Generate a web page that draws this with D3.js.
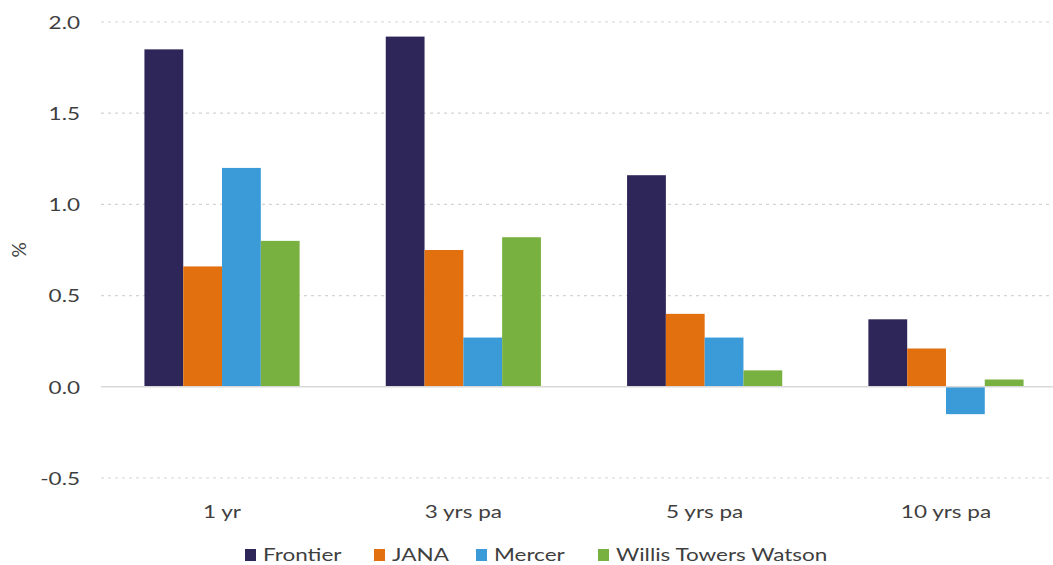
<!DOCTYPE html>
<html>
<head>
<meta charset="utf-8">
<script src="https://cdn.jsdelivr.net/npm/d3@7"></script>
<style>
  body { margin: 0; background: #fff; }
  svg text { font-family: Lato, "Open Sans", sans-serif; fill: #3f3f3f; }
</style>
</head>
<body>
<svg id="svg"></svg>
<script>
var categories = ['1 yr', '3 yrs pa', '5 yrs pa', '10 yrs pa'];
var series = ['Frontier', 'JANA', 'Mercer', 'Willis Towers Watson'];
var frontier = [1.85, 1.92, 1.16, 0.37];
var jana = [0.66, 0.75, 0.40, 0.21];
var mercer = [1.20, 0.27, 0.27, -0.15];
var wtw = [0.80, 0.82, 0.09, 0.04];
var y_ticks = [-0.5, 0.0, 0.5, 1.0, 1.5, 2.0];
var colors = ['#2e2559', '#e3700f', '#3b9bd8', '#78b13f'];

var width = 1053, height = 565;
var values = [frontier, jana, mercer, wtw];
var stretch = 'scale(1.25,1)';   // text in the picture is drawn a bit wide

var svg = d3.select('#svg').attr('width', width).attr('height', height);

// ****************************************
// Scales

var x = d3.scaleBand().domain(categories).range([101, 1067]).paddingInner(0.357).paddingOuter(0.18);
var x_inner = d3.scaleBand().domain(series).range([0, x.bandwidth()]);
var y = d3.scaleLinear().domain([-0.5, 2.0]).range([478, 22]);

// ****************************************
// Grid lines

svg.append('g').selectAll('line').data(y_ticks.filter(d => d !== 0)).join('line')
  .attr('x1', 101).attr('x2', width)
  .attr('y1', d => y(d)).attr('y2', d => y(d))
  .style('stroke', '#d4d4d4').style('stroke-width', 1.2).style('stroke-dasharray', '3 4');

// ****************************************
// Bars

categories.forEach((cat, i) => {
  var g = svg.append('g').attr('transform', 'translate(' + x(cat) + ',0)');
  series.forEach((s, j) => {
    var v = values[j][i];
    g.append('rect')
      .attr('x', x_inner(s))
      .attr('width', x_inner.bandwidth())
      .attr('y', y(Math.max(0, v)))
      .attr('height', Math.abs(y(v) - y(0)))
      .style('fill', colors[j]);
  });
});

// zero line
svg.append('line').attr('x1', 101).attr('x2', width).attr('y1', y(0)).attr('y2', y(0))
  .style('stroke', '#d9d9d9').style('stroke-width', 1.5);

// ****************************************
// Axes

var y_axis = svg.append('g').attr('transform', 'translate(80,0)')
  .call(d3.axisLeft(y).tickValues(y_ticks).tickFormat(d => d.toFixed(1)).tickSize(0).tickPadding(0));
y_axis.select('.domain').remove();
y_axis.selectAll('text').style('font-size', '18px').attr('dy', '0.35em').attr('transform', stretch);

var x_axis = svg.append('g').attr('transform', 'translate(0,505)')
  .call(d3.axisBottom(x).tickSize(0).tickPadding(0));
x_axis.select('.domain').remove();
x_axis.selectAll('text').style('font-size', '18px').attr('transform', stretch);

svg.append('text').attr('transform', 'translate(26,250) rotate(-90)')
  .attr('text-anchor', 'middle').style('font-size', '19px').text('%');

// ****************************************
// Legend

var legend_x = [245, 374, 476, 598];
var legend = svg.append('g');
series.forEach((s, j) => {
  legend.append('rect').attr('x', legend_x[j]).attr('y', 549).attr('width', 11).attr('height', 12).style('fill', colors[j]);
  legend.append('text').attr('transform', 'translate(' + (legend_x[j] + 18) + ',561) ' + stretch)
    .style('font-size', '18px').text(s);
});
</script>
</body>
</html>
